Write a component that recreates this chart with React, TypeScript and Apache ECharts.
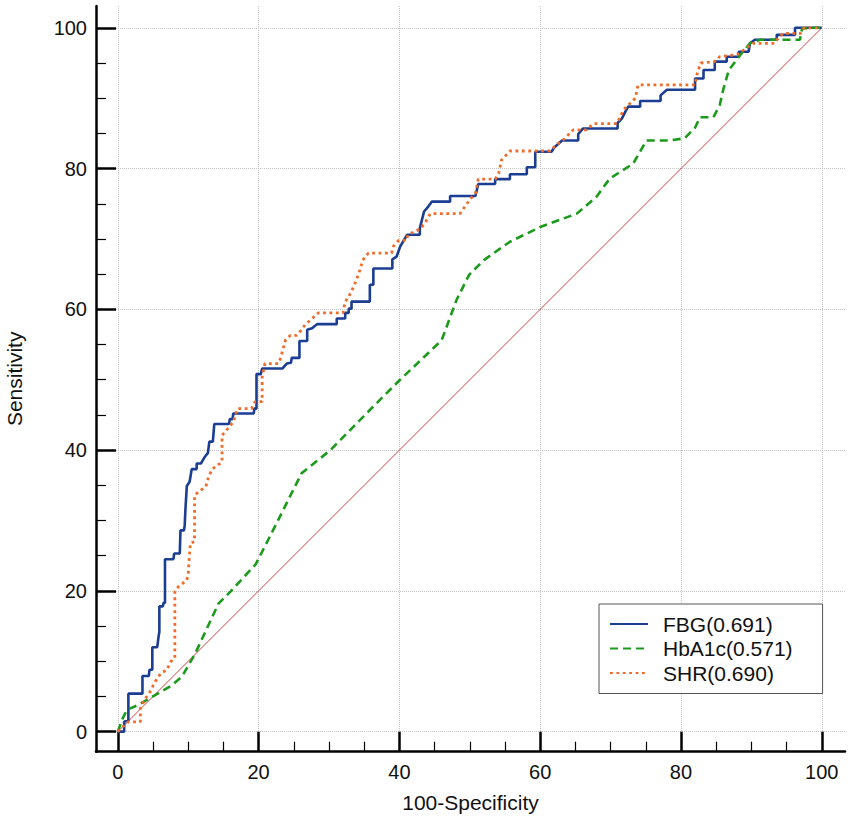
import React, { useEffect, useRef } from "react";
import * as echarts from "echarts";

const xTicks = [0, 20, 40, 60, 80, 100];
const yTicks = [0, 20, 40, 60, 80, 100];
const seriesNames = ["FBG(0.691)", "HbA1c(0.571)", "SHR(0.690)"];
const xTitle = "100-Specificity";
const yTitle = "Sensitivity";

const fbg = [
  [0, 0], [0.9, 0], [0.9, 1.4], [1.5, 1.6], [1.5, 5.4], [3.5, 5.4], [3.5, 7.9], [4.4, 7.9], [4.5, 8.8], [4.9, 8.8],
  [4.9, 12.0], [5.6, 12.0], [5.8, 13.6], [5.9, 14.2], [5.9, 17.8], [6.4, 17.8], [6.5, 18.3], [6.7, 18.3], [6.7, 24.5],
  [7.9, 24.5], [8.0, 25.3], [8.8, 25.3], [8.9, 28.6], [9.4, 28.6], [9.5, 29.3], [9.6, 31.5], [9.8, 34.9], [10.2, 35.5],
  [10.5, 37.3], [11.2, 37.3], [11.2, 38.1], [11.8, 38.1], [12.4, 39.1], [12.8, 39.6], [13.0, 41.2], [13.5, 41.2],
  [13.7, 43.7], [15.8, 43.7], [15.9, 44.4], [16.3, 44.4], [16.4, 45.2], [19.3, 45.2], [19.4, 45.9], [19.7, 45.9],
  [19.7, 50.8], [20.3, 50.8], [20.5, 51.6], [23.4, 51.6], [24.0, 52.3], [24.6, 52.4], [24.7, 53.1], [25.8, 53.1],
  [25.8, 55.5], [26.9, 55.5], [26.9, 57.1], [27.6, 57.3], [28.3, 57.9], [31.1, 57.9], [31.1, 58.7], [32.3, 58.7],
  [32.3, 59.5], [32.8, 59.5], [32.8, 60.1], [33.2, 60.1], [33.2, 61.1], [35.8, 61.1], [35.8, 63.5], [36.3, 63.5],
  [36.3, 65.8], [39.0, 65.8], [39.0, 67.1], [39.6, 67.5], [40.1, 68.9], [41.1, 70.6], [42.9, 70.6], [42.9, 71.5],
  [43.5, 73.9], [44.1, 74.6], [44.6, 75.3], [47.2, 75.3], [47.2, 76.1], [50.8, 76.1], [51.2, 77.8], [53.6, 77.8],
  [53.6, 78.5], [55.7, 78.5], [55.7, 79.2], [58.1, 79.2], [58.1, 80.2], [59.3, 80.2], [59.3, 82.4], [61.6, 82.4],
  [62.0, 83.0], [63.1, 84.0], [65.4, 84.0], [65.4, 84.9], [66.1, 85.7], [71.0, 85.7], [71.0, 86.5], [71.6, 87.1],
  [72.1, 88.1], [72.5, 88.8], [74.2, 88.8], [74.2, 89.6], [77.1, 89.6], [77.1, 90.4], [78.0, 91.2], [82.0, 91.2],
  [82.0, 92.8], [83.2, 92.8], [83.2, 94.0], [84.8, 94.0], [84.8, 95.2], [86.5, 95.2], [86.5, 95.9], [88.2, 95.9],
  [88.2, 96.6], [89.6, 96.6], [89.8, 97.8], [90.5, 98.3], [93.6, 98.3], [93.6, 99.0], [96.2, 99.0], [96.2, 100],
  [100, 100],
];

const hba1c = [
  [0, 0], [0.6, 1.7], [1.3, 3.1], [2.9, 3.8], [5.3, 5.2], [7.7, 6.6], [9.1, 7.8], [11.0, 11.1], [14.3, 18.2],
  [16.0, 19.9], [19.6, 23.8], [22.5, 29.5], [26.1, 36.7], [30.2, 40.0], [35.8, 45.7], [40.1, 50.0], [46.0, 55.6],
  [48.1, 61.3], [49.9, 64.9], [52.0, 67.0], [55.7, 69.6], [60.0, 71.7], [65.2, 73.6], [68.0, 76.0], [69.9, 78.6],
  [73.2, 80.7], [75.1, 84.0], [78.5, 84.0], [80.5, 84.3], [82.0, 85.8], [82.7, 87.3], [84.6, 87.3], [85.5, 89.0],
  [86.0, 91.2], [86.8, 94.0], [88.4, 96.1], [89.8, 97.8], [91.2, 98.3], [96.9, 98.3], [97.2, 99.9], [98.5, 100],
  [100, 100],
];

const shr = [
  [0, 0], [0.7, 0.7], [1.5, 1.4], [3.2, 1.4], [3.2, 3.3], [3.9, 4.7], [4.6, 5.7], [5.3, 7.1], [6.2, 8.4], [6.9, 8.7],
  [7.7, 10.2], [8.1, 10.5], [8.1, 19.9], [8.6, 20.6], [9.8, 21.5], [10.0, 22.5], [10.3, 26.8], [10.9, 27.0],
  [10.9, 33.6], [11.8, 34.3], [12.5, 34.8], [12.9, 36.2], [13.4, 37.3], [13.8, 37.6], [14.8, 38.3], [14.8, 42.1],
  [15.5, 42.9], [16.4, 44.0], [17.0, 45.9], [19.0, 45.9], [19.5, 46.9], [20.5, 46.9], [20.5, 50.4], [20.9, 52.3],
  [22.8, 52.3], [23.1, 53.0], [23.8, 55.6], [24.5, 56.3], [25.4, 56.3], [26.1, 57.1], [26.6, 57.8], [27.6, 58.7],
  [28.5, 59.5], [32.0, 59.5], [32.3, 61.1], [32.8, 61.8], [33.4, 63.0], [33.9, 64.2], [34.4, 65.6], [34.8, 67.0],
  [35.6, 68.0], [38.9, 68.0], [39.1, 68.9], [39.9, 69.8], [41.0, 69.8], [41.2, 70.6], [42.9, 71.4], [43.6, 72.2],
  [44.4, 73.6], [48.6, 73.6], [49.3, 74.6], [50.0, 75.6], [50.8, 76.5], [51.2, 78.5], [53.6, 78.5], [54.1, 79.3],
  [54.5, 81.2], [55.7, 82.5], [61.4, 82.5], [61.9, 83.0], [62.6, 83.6], [63.3, 84.1], [64.7, 85.5], [66.5, 85.5],
  [67.6, 86.4], [70.9, 86.4], [71.4, 87.4], [71.8, 88.3], [72.8, 89.3], [73.5, 90.0], [73.9, 91.9], [82.0, 91.9],
  [82.3, 93.5], [82.8, 95.0], [84.8, 95.2], [85.5, 95.9], [88.0, 96.2], [89.0, 96.9], [90.2, 97.8], [93.3, 97.8],
  [93.8, 98.5], [94.5, 99.2], [97.0, 99.2], [97.5, 100], [100, 100],
];

const diagonal = [[0, 0], [100, 100]];

const FONT = "'Liberation Sans', Arial, sans-serif";

export default function App() {
  const ref = useRef<HTMLDivElement>(null);

  useEffect(() => {
    if (!ref.current) return;
    const chart = echarts.init(ref.current, null, { renderer: "svg" });

    const axisCommon = {
      type: "value",
      axisLine: { show: true, onZero: false, lineStyle: { color: "#000", width: 2.5 } },
      axisTick: { show: true, inside: true, length: 20, lineStyle: { color: "#000", width: 2.5 } },
      minorTick: { show: true, splitNumber: 4, length: 10, lineStyle: { color: "#000", width: 1.2 } },
      splitLine: { show: true, lineStyle: { color: "#c4c4c4", type: "dotted", width: 1 } },
      minorSplitLine: { show: false },
      nameLocation: "middle",
      nameTextStyle: { fontSize: 21, color: "#111", fontFamily: FONT },
    };

    chart.setOption({
      animation: false,
      backgroundColor: "#fff",
      grid: { left: 96, right: 6, top: 6, bottom: 69.3, containLabel: false, outerBoundsMode: "none" },
      xAxis: {
        ...axisCommon,
        min: -3.1,
        max: 103.3,
        name: xTitle,
        nameGap: 40,
        axisTick: { ...axisCommon.axisTick, customValues: xTicks },
        axisLabel: {
          customValues: xTicks,
          margin: 10,
          fontSize: 20,
          color: "#111",
          fontFamily: FONT,
          formatter: (v: number) => (xTicks.includes(v) ? String(v) : ""),
        },
      },
      yAxis: {
        ...axisCommon,
        min: -2.85,
        max: 103.1,
        name: yTitle,
        nameGap: 71,
        axisTick: { ...axisCommon.axisTick, customValues: yTicks },
        axisLabel: {
          customValues: yTicks,
          margin: 9,
          fontSize: 20,
          color: "#111",
          fontFamily: FONT,
          formatter: (v: number) => (yTicks.includes(v) ? String(v) : ""),
        },
      },
      legend: {
        data: seriesNames,
        orient: "vertical",
        left: 599,
        top: 604,
        padding: [9.5, 30, 10, 10],
        borderColor: "#555",
        borderWidth: 1,
        backgroundColor: "#fff",
        itemWidth: 38,
        itemHeight: 14,
        itemGap: 3.5,
        itemStyle: { opacity: 0, color: "transparent", borderWidth: 0 },
        textStyle: { fontSize: 21, color: "#111", fontFamily: FONT, padding: [0, 0, 0, 10] },
      },
      series: [
        {
          name: "diag",
          type: "line",
          data: diagonal,
          symbol: "none",
          silent: true,
          lineStyle: { color: "#c84444", width: 1 },
          z: 1,
        },
        {
          name: seriesNames[0],
          type: "line",
          data: fbg,
          symbol: "none",
          color: "#1b3d92",
          lineStyle: { color: "#1b3d92", width: 2.6, type: "solid" },
          z: 2,
        },
        {
          name: seriesNames[1],
          type: "line",
          data: hba1c,
          symbol: "none",
          color: "#1c9a1c",
          lineStyle: { color: "#1c9a1c", width: 2.6, type: [8, 5] },
          z: 3,
        },
        {
          name: seriesNames[2],
          type: "line",
          data: shr,
          symbol: "none",
          color: "#f26a28",
          lineStyle: { color: "#f26a28", width: 2.8, type: [2.8, 3.6] },
          z: 4,
        },
      ],
    });

    return () => chart.dispose();
  }, []);

  return (
    <div
      ref={ref}
      style={{ position: "fixed", left: 0, top: 0, width: 851, height: 821, background: "#fff" }}
    />
  );
}
